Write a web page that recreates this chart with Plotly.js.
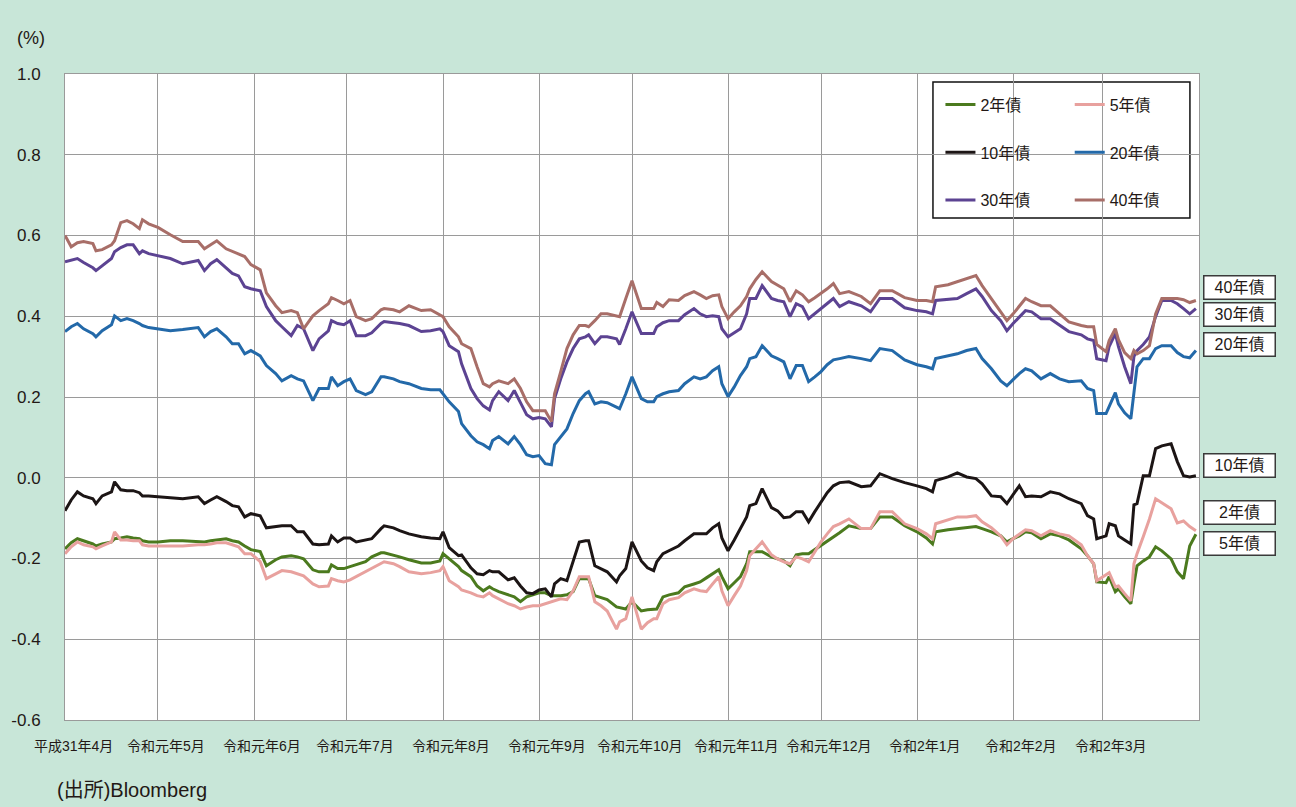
<!DOCTYPE html>
<html>
<head>
<meta charset="utf-8">
<script src="https://cdn.plot.ly/plotly-3.0.1.min.js"></script>
<style>
  html, body { margin: 0; padding: 0; background: #c8e6d8; }
  #chart { width: 1296px; height: 807px; }
</style>
</head>
<body>
<div id="chart"></div>
<script>
// ---------------- data ----------------
const dates = [
"2019-04-01","2019-04-03","2019-04-05","2019-04-07","2019-04-10","2019-04-11","2019-04-13","2019-04-16","2019-04-17","2019-04-19",
"2019-04-21","2019-04-23","2019-04-25","2019-04-26","2019-04-28","2019-05-01","2019-05-05","2019-05-09","2019-05-14","2019-05-16",
"2019-05-18","2019-05-20","2019-05-23","2019-05-25","2019-05-27","2019-05-29","2019-05-31","2019-06-03","2019-06-05","2019-06-08",
"2019-06-10","2019-06-13","2019-06-15","2019-06-17","2019-06-20","2019-06-22","2019-06-25","2019-06-26","2019-06-28","2019-06-30",
"2019-07-02","2019-07-04","2019-07-07","2019-07-09","2019-07-12","2019-07-13","2019-07-16","2019-07-18","2019-07-21","2019-07-25",
"2019-07-28","2019-07-31","2019-08-01","2019-08-03","2019-08-06","2019-08-07","2019-08-10","2019-08-12","2019-08-14","2019-08-16",
"2019-08-17","2019-08-19","2019-08-22","2019-08-24","2019-08-26","2019-08-28","2019-08-30","2019-09-01","2019-09-03","2019-09-05",
"2019-09-06","2019-09-08","2019-09-10","2019-09-12","2019-09-14","2019-09-16","2019-09-17","2019-09-19","2019-09-21","2019-09-23",
"2019-09-26","2019-09-27","2019-09-29","2019-10-01","2019-10-04","2019-10-06","2019-10-08","2019-10-09","2019-10-11","2019-10-13",
"2019-10-16","2019-10-18","2019-10-21","2019-10-23","2019-10-25","2019-10-27","2019-10-29","2019-10-30","2019-11-01","2019-11-03",
"2019-11-05","2019-11-07","2019-11-08","2019-11-10","2019-11-12","2019-11-15","2019-11-17","2019-11-19","2019-11-21","2019-11-23",
"2019-11-25","2019-11-27","2019-11-29","2019-12-01","2019-12-03","2019-12-05","2019-12-07","2019-12-10","2019-12-14","2019-12-17",
"2019-12-20","2019-12-24","2019-12-28","2020-01-01","2020-01-04","2020-01-06","2020-01-07","2020-01-11","2020-01-14","2020-01-17",
"2020-01-20","2020-01-22","2020-01-25","2020-01-28","2020-01-30","2020-02-01","2020-02-03","2020-02-05","2020-02-07","2020-02-10",
"2020-02-13","2020-02-16","2020-02-19","2020-02-23","2020-02-25","2020-02-27","2020-02-28","2020-03-02","2020-03-03","2020-03-05",
"2020-03-06","2020-03-08","2020-03-10","2020-03-11","2020-03-12","2020-03-14","2020-03-16","2020-03-18","2020-03-20","2020-03-23",
"2020-03-25","2020-03-27","2020-03-29","2020-03-31"
];

const y40 = [
0.600,0.572,0.582,0.585,0.580,0.562,0.565,0.577,0.587,0.632,
0.637,0.629,0.617,0.639,0.629,0.620,0.602,0.585,0.585,0.567,
0.577,0.587,0.567,0.560,0.553,0.548,0.528,0.515,0.458,0.426,
0.409,0.414,0.409,0.369,0.401,0.414,0.431,0.446,0.439,0.431,
0.439,0.399,0.389,0.394,0.416,0.419,0.416,0.411,0.426,0.414,
0.416,0.404,0.399,0.374,0.349,0.332,0.320,0.275,0.233,0.225,
0.233,0.240,0.233,0.245,0.221,0.188,0.166,0.166,0.166,0.139,
0.208,0.263,0.320,0.354,0.377,0.377,0.374,0.389,0.406,0.406,
0.401,0.399,0.444,0.488,0.419,0.419,0.419,0.434,0.424,0.441,
0.439,0.451,0.461,0.453,0.444,0.451,0.453,0.424,0.394,0.411,
0.426,0.449,0.468,0.491,0.510,0.486,0.476,0.468,0.436,0.463,
0.453,0.436,0.446,0.456,0.468,0.481,0.456,0.461,0.449,0.431,
0.463,0.463,0.446,0.439,0.439,0.436,0.473,0.478,0.486,0.493,
0.501,0.476,0.444,0.411,0.389,0.406,0.424,0.444,0.436,0.426,
0.426,0.406,0.386,0.377,0.374,0.374,0.330,0.312,0.340,0.369,
0.342,0.310,0.295,0.315,0.307,0.315,0.327,0.406,0.444,0.444,
0.444,0.441,0.434,0.439
];

const y30 = [
0.535,0.540,0.543,0.533,0.520,0.513,0.525,0.543,0.560,0.570,
0.577,0.577,0.555,0.562,0.555,0.550,0.543,0.530,0.538,0.513,
0.530,0.540,0.520,0.506,0.500,0.473,0.468,0.463,0.424,0.389,
0.374,0.352,0.377,0.369,0.315,0.344,0.364,0.389,0.382,0.379,
0.389,0.352,0.352,0.359,0.382,0.387,0.384,0.382,0.377,0.362,
0.364,0.369,0.362,0.327,0.312,0.282,0.221,0.196,0.178,0.168,
0.191,0.213,0.191,0.216,0.186,0.156,0.146,0.149,0.146,0.126,
0.196,0.245,0.287,0.320,0.344,0.349,0.354,0.332,0.349,0.349,
0.344,0.330,0.369,0.411,0.357,0.357,0.357,0.374,0.384,0.389,
0.389,0.404,0.419,0.406,0.399,0.401,0.399,0.369,0.349,0.359,
0.369,0.406,0.444,0.444,0.476,0.444,0.439,0.436,0.399,0.431,
0.424,0.394,0.406,0.419,0.431,0.444,0.424,0.436,0.426,0.411,
0.444,0.444,0.421,0.414,0.411,0.406,0.439,0.441,0.444,0.456,
0.468,0.449,0.414,0.389,0.364,0.382,0.399,0.414,0.411,0.394,
0.394,0.377,0.362,0.354,0.344,0.340,0.295,0.290,0.325,0.357,
0.325,0.275,0.233,0.300,0.315,0.330,0.349,0.399,0.439,0.439,
0.431,0.419,0.406,0.419
];

const y20 = [
0.362,0.374,0.382,0.369,0.357,0.349,0.364,0.379,0.401,0.389,
0.394,0.389,0.382,0.377,0.372,0.369,0.364,0.367,0.372,0.349,
0.362,0.369,0.349,0.332,0.332,0.307,0.315,0.302,0.278,0.258,
0.240,0.253,0.245,0.240,0.191,0.221,0.221,0.250,0.228,0.238,
0.245,0.216,0.206,0.213,0.250,0.250,0.245,0.238,0.233,0.221,
0.218,0.218,0.208,0.188,0.164,0.134,0.104,0.089,0.082,0.072,
0.092,0.102,0.084,0.102,0.082,0.057,0.052,0.055,0.035,0.032,
0.082,0.102,0.121,0.159,0.191,0.208,0.213,0.183,0.188,0.186,
0.176,0.171,0.208,0.250,0.196,0.188,0.188,0.201,0.208,0.213,
0.216,0.233,0.250,0.245,0.250,0.265,0.275,0.233,0.201,0.225,
0.253,0.275,0.295,0.300,0.327,0.302,0.295,0.287,0.245,0.278,
0.278,0.238,0.250,0.263,0.280,0.292,0.295,0.300,0.295,0.290,
0.320,0.315,0.292,0.280,0.275,0.270,0.295,0.302,0.307,0.315,
0.320,0.295,0.270,0.240,0.228,0.243,0.258,0.270,0.265,0.245,
0.258,0.245,0.238,0.240,0.221,0.216,0.159,0.159,0.176,0.211,
0.183,0.161,0.146,0.216,0.275,0.295,0.295,0.320,0.327,0.327,
0.310,0.300,0.297,0.315
];

const y10 = [
-0.082,-0.055,-0.035,-0.045,-0.052,-0.064,-0.045,-0.035,-0.010,-0.030,
-0.032,-0.032,-0.037,-0.045,-0.045,-0.047,-0.050,-0.052,-0.047,-0.064,
-0.055,-0.047,-0.059,-0.069,-0.072,-0.097,-0.089,-0.094,-0.124,-0.121,
-0.119,-0.119,-0.134,-0.134,-0.164,-0.166,-0.164,-0.144,-0.159,-0.149,
-0.149,-0.159,-0.154,-0.151,-0.126,-0.119,-0.124,-0.131,-0.139,-0.146,
-0.149,-0.151,-0.134,-0.173,-0.193,-0.191,-0.223,-0.238,-0.240,-0.230,
-0.233,-0.233,-0.253,-0.248,-0.268,-0.285,-0.287,-0.278,-0.275,-0.295,
-0.263,-0.250,-0.255,-0.208,-0.159,-0.156,-0.156,-0.218,-0.225,-0.233,
-0.258,-0.243,-0.225,-0.159,-0.206,-0.223,-0.230,-0.208,-0.188,-0.181,
-0.169,-0.156,-0.139,-0.139,-0.139,-0.124,-0.114,-0.149,-0.181,-0.154,
-0.126,-0.097,-0.069,-0.064,-0.027,-0.074,-0.082,-0.099,-0.097,-0.084,
-0.084,-0.109,-0.084,-0.059,-0.037,-0.020,-0.012,-0.010,-0.022,-0.020,
0.010,-0.002,-0.012,-0.020,-0.027,-0.035,-0.007,0.002,0.012,0.002,
-0.002,-0.015,-0.045,-0.047,-0.064,-0.042,-0.020,-0.047,-0.045,-0.047,
-0.035,-0.040,-0.052,-0.064,-0.094,-0.102,-0.151,-0.144,-0.114,-0.119,
-0.144,-0.154,-0.164,-0.067,-0.064,0.005,0.005,0.072,0.079,0.084,
0.040,0.005,0.002,0.005
];

const y2 = [
-0.176,-0.161,-0.151,-0.156,-0.164,-0.169,-0.164,-0.159,-0.151,-0.149,
-0.146,-0.149,-0.151,-0.156,-0.159,-0.159,-0.156,-0.156,-0.159,-0.159,
-0.156,-0.154,-0.151,-0.156,-0.159,-0.169,-0.178,-0.183,-0.218,-0.203,
-0.196,-0.193,-0.196,-0.201,-0.228,-0.233,-0.233,-0.216,-0.225,-0.225,
-0.220,-0.216,-0.208,-0.196,-0.186,-0.186,-0.191,-0.196,-0.203,-0.211,
-0.211,-0.206,-0.188,-0.201,-0.220,-0.230,-0.245,-0.268,-0.280,-0.270,
-0.275,-0.282,-0.290,-0.295,-0.307,-0.295,-0.290,-0.285,-0.285,-0.292,
-0.292,-0.292,-0.290,-0.282,-0.250,-0.250,-0.250,-0.292,-0.297,-0.302,
-0.320,-0.322,-0.325,-0.307,-0.330,-0.327,-0.325,-0.325,-0.295,-0.290,
-0.285,-0.270,-0.263,-0.258,-0.248,-0.238,-0.228,-0.245,-0.275,-0.260,
-0.245,-0.213,-0.183,-0.183,-0.183,-0.196,-0.201,-0.206,-0.218,-0.191,
-0.188,-0.188,-0.178,-0.168,-0.156,-0.146,-0.136,-0.119,-0.126,-0.126,
-0.097,-0.097,-0.119,-0.134,-0.149,-0.164,-0.134,-0.129,-0.126,-0.124,
-0.121,-0.126,-0.134,-0.144,-0.159,-0.151,-0.144,-0.134,-0.136,-0.151,
-0.139,-0.144,-0.154,-0.176,-0.193,-0.213,-0.258,-0.260,-0.245,-0.282,
-0.275,-0.295,-0.312,-0.263,-0.218,-0.206,-0.196,-0.171,-0.181,-0.201,
-0.233,-0.250,-0.169,-0.140
];

const y5 = [
-0.188,-0.171,-0.159,-0.166,-0.171,-0.176,-0.169,-0.159,-0.134,-0.154,
-0.154,-0.156,-0.156,-0.166,-0.169,-0.169,-0.169,-0.169,-0.166,-0.166,
-0.164,-0.161,-0.161,-0.166,-0.171,-0.188,-0.188,-0.208,-0.250,-0.238,
-0.230,-0.233,-0.238,-0.243,-0.263,-0.270,-0.268,-0.250,-0.255,-0.258,
-0.253,-0.245,-0.233,-0.223,-0.211,-0.208,-0.213,-0.220,-0.233,-0.238,
-0.235,-0.230,-0.220,-0.255,-0.270,-0.278,-0.285,-0.292,-0.295,-0.285,
-0.292,-0.300,-0.312,-0.317,-0.325,-0.320,-0.317,-0.317,-0.312,-0.307,
-0.305,-0.300,-0.302,-0.280,-0.245,-0.245,-0.245,-0.307,-0.317,-0.330,
-0.375,-0.357,-0.349,-0.295,-0.375,-0.359,-0.349,-0.349,-0.312,-0.302,
-0.297,-0.285,-0.275,-0.280,-0.282,-0.263,-0.245,-0.280,-0.317,-0.292,
-0.268,-0.230,-0.193,-0.176,-0.159,-0.191,-0.201,-0.208,-0.213,-0.196,
-0.201,-0.208,-0.183,-0.159,-0.139,-0.121,-0.114,-0.102,-0.126,-0.126,
-0.084,-0.084,-0.114,-0.126,-0.139,-0.151,-0.114,-0.104,-0.097,-0.097,
-0.094,-0.109,-0.124,-0.144,-0.166,-0.151,-0.139,-0.129,-0.131,-0.144,
-0.131,-0.139,-0.144,-0.166,-0.193,-0.213,-0.255,-0.240,-0.235,-0.270,
-0.268,-0.287,-0.305,-0.213,-0.188,-0.146,-0.102,-0.052,-0.062,-0.077,
-0.112,-0.107,-0.121,-0.131
];

const seriesNames = ["2年債", "5年債", "10年債", "20年債", "30年債", "40年債"];
const seriesValues = [y2, y5, y10, y20, y30, y40];
const seriesColors = ["#4b7a1e", "#e8a19e", "#1c1515", "#2369a9", "#5c4392", "#a86e68"];
const seriesLegend = ["legend", "legend2", "legend", "legend2", "legend", "legend2"];

const monthStarts = ["2019-04-01","2019-05-01","2019-06-01","2019-07-01","2019-08-01","2019-09-01",
                     "2019-10-01","2019-11-01","2019-12-01","2020-01-01","2020-02-01","2020-03-01"];
const monthLabels = ["平成31年4月","令和元年5月","令和元年6月","令和元年7月","令和元年8月","令和元年9月",
                     "令和元年10月","令和元年11月","令和元年12月","令和2年1月","令和2年2月","令和2年3月"];

const yTickVals = [-0.6, -0.4, -0.2, 0.0, 0.2, 0.4, 0.6, 0.8, 1.0];
const yTickText = ["-0.6", "-0.4", "-0.2", "0.0", "0.2", "0.4", "0.6", "0.8", "1.0"];

// end-of-line label boxes (text and the y level where each box sits)
const endLabels = ["40年債", "30年債", "20年債", "10年債", "2年債", "5年債"];
const endLabelY = [0.471, 0.404, 0.330, 0.030, -0.087, -0.164];

// ---------------- chart ----------------
const FONT = 'Liberation Sans, "Noto Sans CJK JP", sans-serif';
const TEXT = "#231815";

const traces = seriesNames.map((name, i) => ({
  type: "scatter",
  mode: "lines",
  name: name,
  x: dates,
  y: seriesValues[i],
  line: { color: seriesColors[i], width: 3 },
  legend: seriesLegend[i],
  legendgroup: "g" + i,
  hoverinfo: "x+y+name"
}));

const annotations = [];
monthLabels.forEach((t, i) => {
  annotations.push({
    text: t, xref: "x", x: monthStarts[i], xshift: 8,
    yref: "paper", y: 0, yshift: -26, yanchor: "middle", xanchor: "center",
    showarrow: false, font: { family: FONT, size: 14, color: TEXT }
  });
});
endLabels.forEach((t, i) => {
  annotations.push({
    text: t, xref: "paper", x: 1.0035, xanchor: "left",
    yref: "y", y: endLabelY[i], yanchor: "middle",
    showarrow: false, font: { family: FONT, size: 16, color: TEXT },
    bgcolor: "#ffffff", bordercolor: "#3a3a3a", borderwidth: 1.5, borderpad: 1,
    width: 68, height: 20, align: "center"
  });
});
annotations.push({
  text: "(%)", xref: "paper", x: -0.044, xanchor: "left",
  yref: "paper", y: 1.0557, yanchor: "middle",
  showarrow: false, font: { family: FONT, size: 18, color: TEXT }
});
annotations.push({
  text: "(出所)Bloomberg", xref: "paper", x: -0.009, xanchor: "left",
  yref: "paper", y: -0.1084, yanchor: "middle",
  showarrow: false, font: { family: FONT, size: 20, color: TEXT }
});

const legendCommon = {
  xanchor: "left", yanchor: "top",
  bgcolor: "rgba(0,0,0,0)", borderwidth: 0,
  traceorder: "grouped", tracegroupgap: 24,
  font: { family: FONT, size: 16, color: TEXT },
  itemclick: false, itemdoubleclick: false
};

const layout = {
  width: 1296, height: 807,
  paper_bgcolor: "#c8e6d8",
  plot_bgcolor: "#ffffff",
  margin: { l: 65, r: 97, t: 74, b: 87, pad: 0 },
  font: { family: FONT, size: 15, color: TEXT },
  showlegend: true,
  xaxis: {
    type: "date",
    range: ["2019-04-01", "2020-04-01"],
    tickvals: monthStarts,
    showticklabels: false,
    ticks: "",
    showgrid: true, gridcolor: "#9a9a9a", gridwidth: 1,
    showline: true, mirror: true, linecolor: "#9a9a9a", linewidth: 1,
    zeroline: false, fixedrange: true
  },
  yaxis: {
    range: [-0.6, 1.0],
    tickvals: yTickVals,
    ticktext: yTickText,
    ticks: "",
    ticklabelstandoff: 20,
    tickfont: { family: FONT, size: 17, color: TEXT },
    showgrid: true, gridcolor: "#9a9a9a", gridwidth: 1,
    showline: true, mirror: true, linecolor: "#9a9a9a", linewidth: 1,
    zeroline: false, fixedrange: true
  },
  legend: Object.assign({ x: 0.772, y: 0.979 }, legendCommon),
  legend2: Object.assign({ x: 0.886, y: 0.979 }, legendCommon),
  shapes: [{
    type: "rect", xref: "paper", yref: "paper",
    x0: 0.7654, x1: 0.992, y0: 0.777, y1: 0.9876,
    line: { color: "#111111", width: 1.5 },
    fillcolor: "#ffffff", layer: "between"
  }],
  annotations: annotations
};

Plotly.newPlot("chart", traces, layout, { displayModeBar: false, staticPlot: true });
</script>
</body>
</html>
